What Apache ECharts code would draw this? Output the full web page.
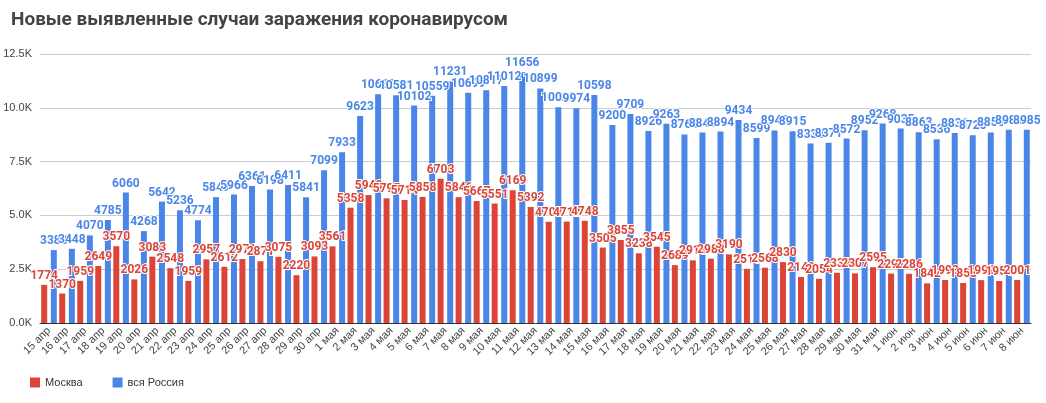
<!DOCTYPE html>
<html><head><meta charset="utf-8">
<script src="https://cdn.jsdelivr.net/npm/echarts@6/dist/echarts.min.js"></script>
<style>html,body{margin:0;padding:0;background:#fff}#c{width:1046px;height:403px}</style>
</head><body><div id="c"></div>
<script>
const categories = ["15 апр","16 апр","17 апр","18 апр","19 апр","20 апр","21 апр","22 апр","23 апр","24 апр","25 апр","26 апр","27 апр","28 апр","29 апр","30 апр",
"1 мая","2 мая","3 мая","4 мая","5 мая","6 мая","7 мая","8 мая","9 мая","10 мая","11 мая","12 мая","13 мая","14 мая","15 мая","16 мая","17 мая","18 мая","19 мая","20 мая","21 мая","22 мая","23 мая","24 мая","25 мая","26 мая","27 мая","28 мая","29 мая","30 мая","31 мая",
"1 июн","2 июн","3 июн","4 июн","5 июн","6 июн","7 июн","8 июн"];
const moscow = [1774,1370,1959,2649,3570,2026,3083,2548,1959,2957,2612,2971,2871,3075,2220,3093,
3561,5358,5948,5795,5714,5858,6703,5846,5667,5551,6169,5392,4703,4712,4748,3505,3855,3238,3545,2689,2913,2988,3190,2516,2568,2830,2140,2054,2332,2307,2595,
2297,2286,1842,1998,1858,1992,1951,2001];
const russia = [3388,3448,4070,4785,6060,4268,5642,5236,4774,5849,5966,6361,6198,6411,5841,7099,
7933,9623,10633,10581,10102,10559,11231,10699,10817,11012,11656,10899,10028,9974,10598,9200,9709,8926,9263,8764,8849,8894,9434,8599,8946,8915,8338,8371,8572,8952,9268,
9035,8863,8536,8831,8726,8855,8984,8985];
const lbl = c => ({show:true,position:'top',distance:3,color:c,fontSize:12,fontWeight:'bold',fontFamily:'Roboto',textBorderColor:'#fff',textBorderWidth:2});
const chart = echarts.init(document.getElementById('c'));
chart.setOption({
  animation:false,
  title:{text:'Новые выявленные случаи заражения коронавирусом',left:6,top:6,textStyle:{fontSize:19,fontWeight:'bold',color:'#444',fontFamily:'Roboto'}},
  legend:{left:25,bottom:10,itemWidth:10,itemHeight:10,icon:'rect',itemGap:30,textStyle:{fontSize:11,color:'#333'},data:['Москва','вся Россия']},
  grid:{left:40,right:15,top:54,bottom:80,containLabel:false},
  xAxis:{type:'category',data:categories,axisTick:{show:false},axisLine:{lineStyle:{color:'#333'}},
    axisLabel:{rotate:45,interval:0,fontSize:11,color:'#444',margin:6}},
  yAxis:{type:'value',min:0,max:12500,interval:2500,axisLabel:{color:'#444',fontSize:11,formatter:v=>(v/1000).toFixed(1)+'K'},
    splitLine:{lineStyle:{color:'#ccc'}}},
  series:[
    {name:'Москва',type:'bar',data:moscow,itemStyle:{color:'#db4437'},barWidth:6,barGap:'60%',label:lbl('#db4437')},
    {name:'вся Россия',type:'bar',data:russia,itemStyle:{color:'#4a86e8'},barWidth:6,label:lbl('#4a86e8')}
  ]
});
</script></body></html>
